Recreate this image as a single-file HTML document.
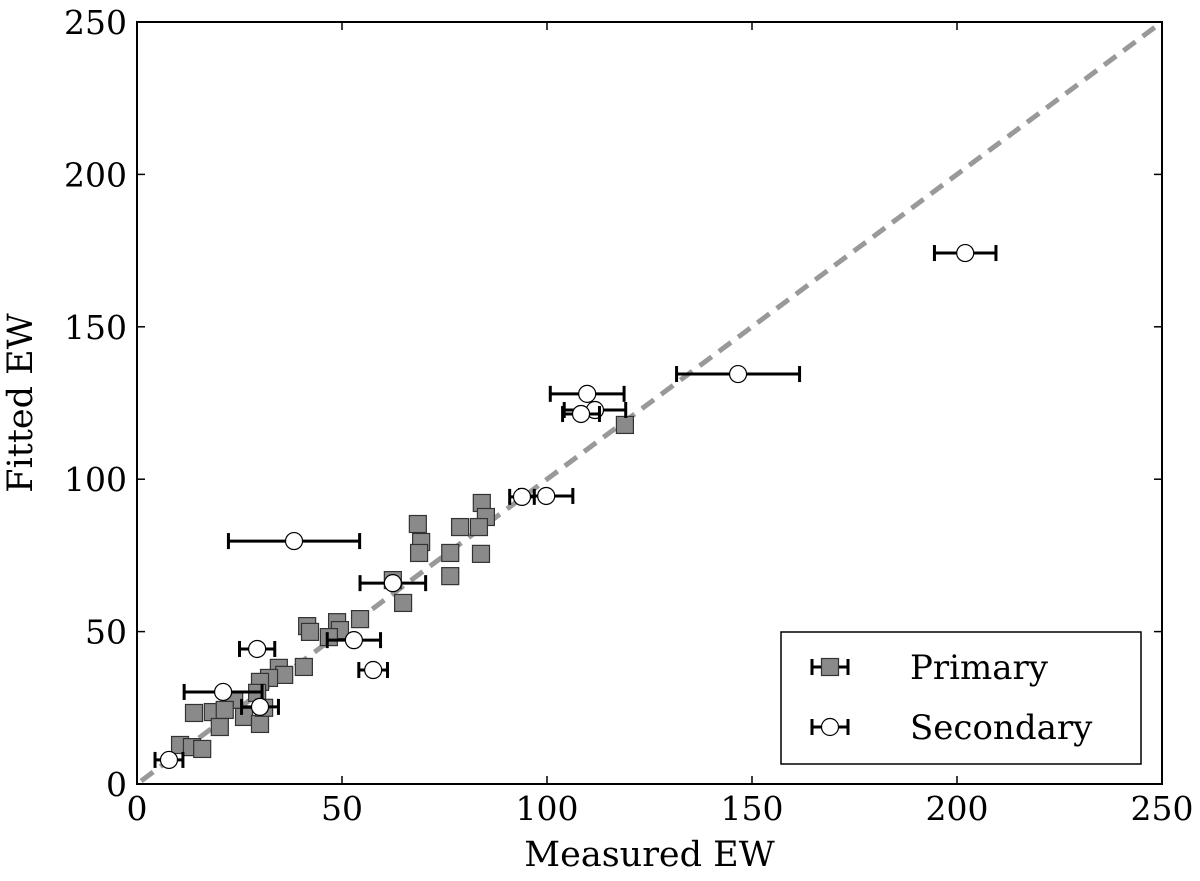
<!DOCTYPE html>
<html><head><meta charset="utf-8"><style>
body{margin:0;background:#fff;}
svg text{font-family:"DejaVu Serif","Liberation Serif",serif;fill:#000;}
</style></head><body>
<svg id="chart" width="1200" height="876" xmlns="http://www.w3.org/2000/svg">
<g id="plot"></g>
</svg>
<script>
const xTicks=[0,50,100,150,200,250];
const yTicks=[0,50,100,150,200,250];
const primaryX=[68.5,78.8,84.1,85.1,83.4,69.3,68.8,76.4,83.9,76.4,62.4,64.9,54.4,41.5,42.2,48.8,49.5,46.8,40.7,34.6,35.9,32.2,30.0,29.3,23.7,13.9,18.5,21.4,20.2,26.1,30.0,10.5,13.4,15.9,31.0,119.0];
const primaryY=[85.3,84.3,92.2,87.6,84.3,79.4,75.8,75.8,75.5,68.2,66.9,59.4,54.1,51.8,49.9,53.1,50.5,48.2,38.4,38.1,35.8,34.8,33.5,29.9,27.6,23.3,23.6,24.3,18.7,22.0,19.7,12.8,12.1,11.5,25.0,117.8];
const secX=[202,146.6,109.8,111.7,108.3,99.8,93.9,38.3,62.4,52.9,29.3,57.6,21,30,7.8];
const secY=[174.2,134.5,128,122.7,121.4,94.5,94.2,79.7,65.9,47.2,44.3,37.4,30.2,25.3,7.9];
const secErr=[7.5,15,9,7.5,4.5,6.5,3,16,8,6.5,4.3,3.5,9.5,4.5,3.4];

const L=137,R=1162,T=22,B=784;
const sx=v=>L+(v/250)*(R-L);
const sy=v=>B-(v/250)*(B-T);
const NS="http://www.w3.org/2000/svg";
const g=document.getElementById('plot');
function mk(tag,attrs,parent){const e=document.createElementNS(NS,tag);for(const k in attrs)e.setAttribute(k,attrs[k]);(parent||g).appendChild(e);return e;}

let d=mk('line',{x1:sx(1),y1:sy(1),x2:sx(250),y2:sy(250),stroke:'#999','stroke-width':5,'stroke-dasharray':'15,9'});



primaryX.forEach((x,i)=>{
 const s=mk('rect',{x:sx(x)-8.5,y:sy(primaryY[i])-8.5,width:17,height:17,fill:'#8a8a8a',stroke:'#333','stroke-width':1.2});
 
 
});
secX.forEach((x,i)=>{
 const y=sy(secY[i]),x0=sx(x-secErr[i]),x1=sx(x+secErr[i]);
 const eb=mk('g',{});
 
 
 mk('line',{x1:x0,y1:y,x2:x1,y2:y,stroke:'#000','stroke-width':3},eb);
 mk('line',{x1:x0,y1:y-8,x2:x0,y2:y+8,stroke:'#000','stroke-width':3},eb);
 mk('line',{x1:x1,y1:y-8,x2:x1,y2:y+8,stroke:'#000','stroke-width':3},eb);
 const c=mk('circle',{cx:sx(x),cy:y,r:8.5,fill:'#fff',stroke:'#000','stroke-width':1.2});
 
 
});
let f=mk('rect',{x:L,y:T,width:R-L,height:B-T,fill:'none',stroke:'#000','stroke-width':2});


xTicks.forEach(t=>{
 mk('line',{x1:sx(t),y1:B,x2:sx(t),y2:B-8,stroke:'#000','stroke-width':1.5});
 mk('line',{x1:sx(t),y1:T,x2:sx(t),y2:T+8,stroke:'#000','stroke-width':1.5});
 const tx=mk('text',{x:sx(t),y:B+36,'text-anchor':'middle','font-size':33});
 tx.textContent=t;
 
 
});
yTicks.forEach(t=>{
 mk('line',{x1:L,y1:sy(t),x2:L+8,y2:sy(t),stroke:'#000','stroke-width':1.5});
 mk('line',{x1:R,y1:sy(t),x2:R-8,y2:sy(t),stroke:'#000','stroke-width':1.5});
 const ty=mk('text',{x:L-10,y:sy(t)+12,'text-anchor':'end','font-size':33});
 ty.textContent=t;
 
 
});
let xl=mk('text',{x:(L+R)/2,y:866,'text-anchor':'middle','font-size':35});
xl.textContent='Measured EW';


let yl=mk('text',{x:0,y:0,'text-anchor':'middle','font-size':35,transform:`translate(32,${(T+B)/2}) rotate(-90)`});
yl.textContent='Fitted EW';


const lg=mk('g',{});


mk('rect',{x:781,y:632,width:360,height:132,fill:'#fff',stroke:'#000','stroke-width':1.5},lg);
[[667,'Primary',0],[727,'Secondary',1]].forEach(([y,lab,k])=>{
 const e=mk('g',{},lg);
 
 
 mk('line',{x1:812,y1:y,x2:848,y2:y,stroke:'#000','stroke-width':3},e);
 mk('line',{x1:812,y1:y-8,x2:812,y2:y+8,stroke:'#000','stroke-width':3},e);
 mk('line',{x1:848,y1:y-8,x2:848,y2:y+8,stroke:'#000','stroke-width':3},e);
 if(k===0) mk('rect',{x:821.5,y:y-8.5,width:17,height:17,fill:'#8a8a8a',stroke:'#333','stroke-width':1.2},e);
 else mk('circle',{cx:830,cy:y,r:8.5,fill:'#fff',stroke:'#000','stroke-width':1.2},e);
 const t=mk('text',{x:910,y:y+12,'font-size':34},e);
 t.textContent=lab;
});
</script>
</body></html>
